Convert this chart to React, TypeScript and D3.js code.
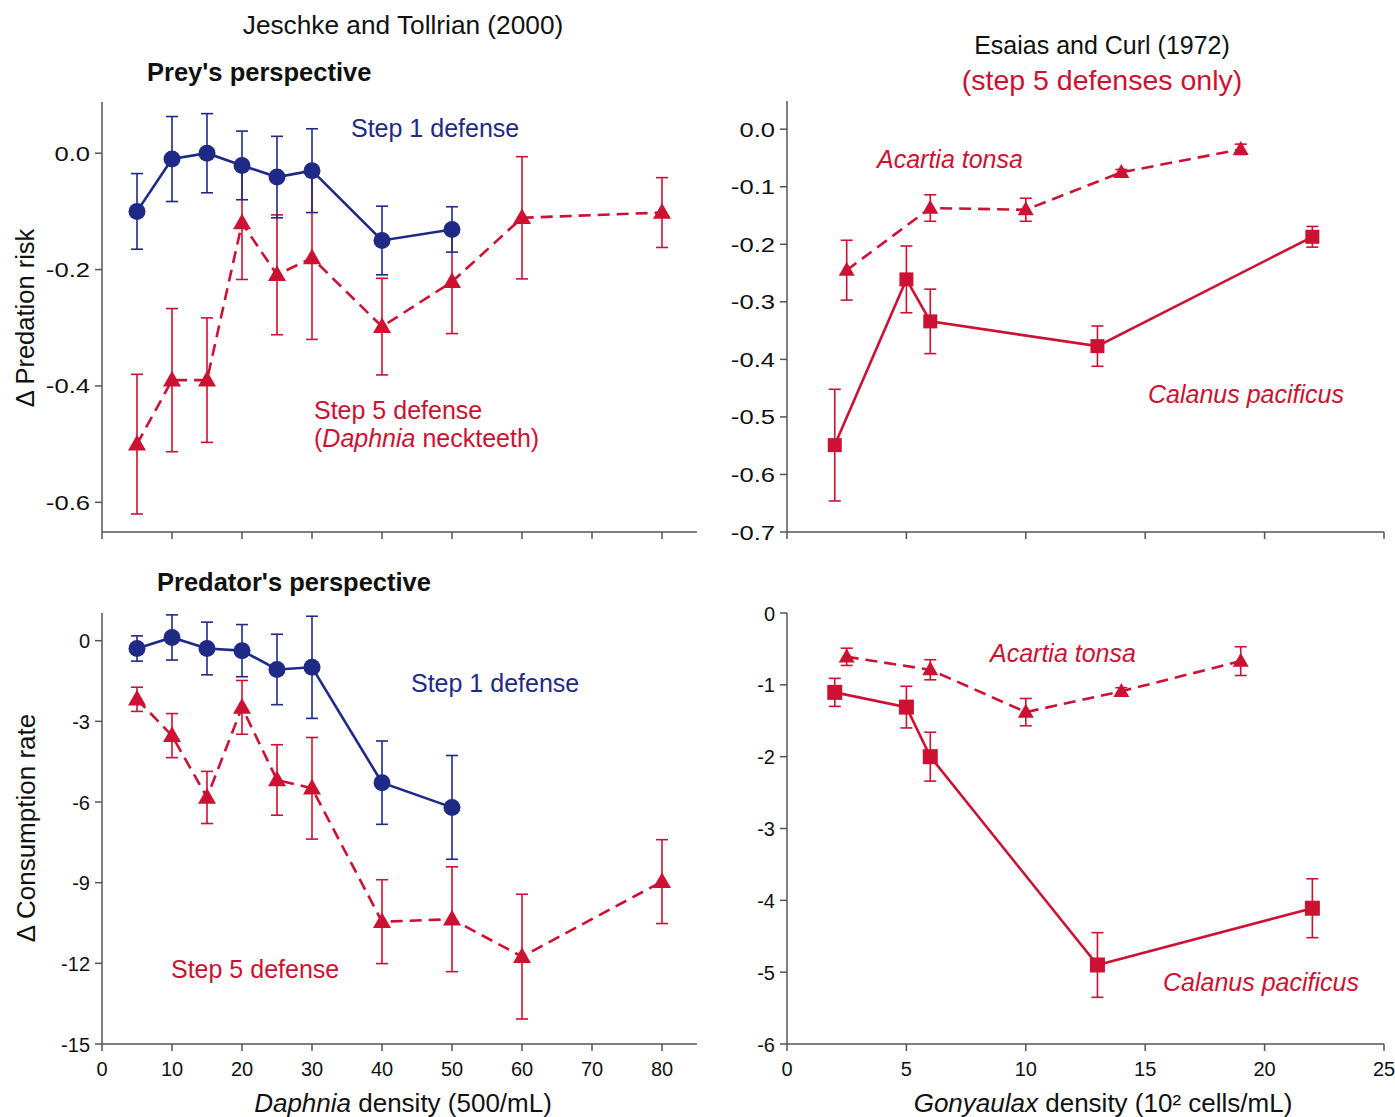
import React from "react";
import * as d3 from "d3";

// ---------- DATA ----------
const daphniaDensity = [5, 10, 15, 20, 25, 30, 40, 50, 60, 80];
const preyStep1 = [-0.1, -0.01, 0.0, -0.021, -0.041, -0.03, -0.15, -0.131];
const preyStep1Err = [0.065, 0.073, 0.068, 0.059, 0.07, 0.072, 0.059, 0.039];
const preyStep5 = [-0.5, -0.39, -0.39, -0.12, -0.209, -0.18, -0.298, -0.221, -0.111, -0.102];
const preyStep5Err = [0.12, 0.123, 0.107, 0.097, 0.103, 0.14, 0.083, 0.089, 0.105, 0.06];
const predStep1 = [-0.29, 0.12, -0.29, -0.37, -1.07, -0.99, -5.28, -6.2];
const predStep1Err = [0.47, 0.84, 0.98, 0.97, 1.31, 1.9, 1.55, 1.93];
const predStep5 = [-2.18, -3.53, -5.83, -2.48, -5.18, -5.49, -10.45, -10.36, -11.75, -8.96];
const predStep5Err = [0.45, 0.82, 0.97, 1.0, 1.31, 1.89, 1.56, 1.95, 2.32, 1.56];

const acartiaX = [2.5, 6, 10, 14, 19];
const acartiaRisk = [-0.245, -0.137, -0.14, -0.075, -0.035];
const acartiaRiskErr = [0.052, 0.023, 0.02, 0.005, 0.009];
const calanusX = [2, 5, 6, 13, 22];
const calanusRisk = [-0.549, -0.261, -0.334, -0.377, -0.187];
const calanusRiskErr = [0.097, 0.058, 0.056, 0.035, 0.018];
const acartiaCons = [-0.61, -0.79, -1.38, -1.09, -0.67];
const acartiaConsErr = [0.12, 0.14, 0.19, 0.05, 0.2];
const calanusCons = [-1.105, -1.31, -2.0, -4.9, -4.11];
const calanusConsErr = [0.195, 0.29, 0.34, 0.45, 0.41];

const daphniaTicks = [0, 10, 20, 30, 40, 50, 60, 70, 80];
const gonyTicks = [0, 5, 10, 15, 20, 25];
const preyTicks = [0, -0.2, -0.4, -0.6];
const riskTicksR = [0, -0.1, -0.2, -0.3, -0.4, -0.5, -0.6, -0.7];
const consTicksL = [0, -3, -6, -9, -12, -15];
const consTicksR = [0, -1, -2, -3, -4, -5, -6];

// ---------- STYLE ----------
const BLUE = "#1f2a86";
const RED = "#cc1133";
const AXIS = "#555";
const FONT = "'Liberation Sans', Arial, Helvetica, sans-serif";

const fmt1 = (v: number) => (Math.abs(v) < 1e-9 ? "0.0" : d3.format(".1f")(v).replace("\u2212", "-"));
const fmt0 = (v: number) => (Math.abs(v) < 1e-9 ? "0" : String(v));

// scales
const xL = d3.scaleLinear().domain([0, 85]).range([102, 697]);
const xR = d3.scaleLinear().domain([0, 25]).range([787, 1384]);
const yTL = d3.scaleLinear().domain([-0.651, 0.088]).range([532, 102]);
const yTR = d3.scaleLinear().domain([-0.7, 0.049]).range([532, 101]);
const yBL = d3.scaleLinear().domain([-15, 1.03]).range([1044, 613]);
const yBR = d3.scaleLinear().domain([-6, 0]).range([1044, 613]);

type Sc = d3.ScaleLinear<number, number>;

function ST({ x, y, size, sx = 1, anchor = "start", fill = "#111", bold = false, italic = false, rotate = 0, children }: any) {
  return (
    <g transform={`translate(${x},${y}) rotate(${rotate}) scale(${sx},1)`}>
      <text x={0} y={0} fontSize={size} fontFamily={FONT} fill={fill} fontWeight={bold ? "bold" : "normal"} fontStyle={italic ? "italic" : "normal"} textAnchor={anchor}>
        {children}
      </text>
    </g>
  );
}

function Axes({ x, y, xTicks, yTicks, yFmt, xLabels, ySize, ySx }: { x: Sc; y: Sc; xTicks: number[]; yTicks: number[]; yFmt: (v: number) => string; xLabels: boolean; ySize: number; ySx: number }) {
  const [x0, x1] = x.range();
  const [y0, y1] = y.range();
  return (
    <g>
      <line x1={x0} x2={x1} y1={y0} y2={y0} stroke={AXIS} strokeWidth={1.5} />
      <line x1={x0} x2={x0} y1={y0} y2={y1} stroke={AXIS} strokeWidth={1.5} />
      {xTicks.map((t) => (
        <g key={"x" + t}>
          <line x1={x(t)} x2={x(t)} y1={y0} y2={y0 + 7} stroke={AXIS} strokeWidth={1.5} />
          {xLabels && (
            <ST x={x(t)} y={y0 + 32} size={20} anchor="middle">
              {fmt0(t)}
            </ST>
          )}
        </g>
      ))}
      {yTicks.map((t) => (
        <g key={"y" + t}>
          <line x1={x0 - 7} x2={x0} y1={y(t)} y2={y(t)} stroke={AXIS} strokeWidth={1.5} />
          <ST x={x0 - 12} y={y(t) + 7.5} size={ySize} sx={ySx} anchor="end">
            {yFmt(t)}
          </ST>
        </g>
      ))}
    </g>
  );
}

type Marker = "circle" | "triangle" | "square";

function Series({ xs, ys, errs, x, y, color, dashed, marker, size, errW }: { xs: number[]; ys: number[]; errs: number[]; x: Sc; y: Sc; color: string; dashed: boolean; marker: Marker; size: number; errW: number }) {
  const pts = ys.map((v, i) => [xs[i], v] as [number, number]);
  const line = d3.line<[number, number]>().x((d) => x(d[0])).y((d) => y(d[1]));
  const cap = 6;
  return (
    <g>
      {pts.map((d, i) => {
        const cx = x(d[0]);
        const top = y(d[1] + errs[i]);
        const bot = y(d[1] - errs[i]);
        return (
          <g key={"e" + i} stroke={color} strokeWidth={errW}>
            <line x1={cx} x2={cx} y1={top} y2={bot} />
            <line x1={cx - cap} x2={cx + cap} y1={top} y2={top} />
            <line x1={cx - cap} x2={cx + cap} y1={bot} y2={bot} />
          </g>
        );
      })}
      <path d={line(pts) || ""} fill="none" stroke={color} strokeWidth={2.6} strokeDasharray={dashed ? "12 7" : undefined} />
      {pts.map((d, i) => {
        const cx = x(d[0]);
        const cy = y(d[1]);
        if (marker === "circle") return <circle key={"m" + i} cx={cx} cy={cy} r={size} fill={color} />;
        if (marker === "square")
          return <rect key={"m" + i} x={cx - size} y={cy - size} width={size * 2} height={size * 2} fill={color} />;
        const h = size * 1.75;
        return (
          <path
            key={"m" + i}
            d={`M${cx},${cy - h * 0.6} L${cx + size},${cy + h * 0.4} L${cx - size},${cy + h * 0.4} Z`}
            fill={color}
          />
        );
      })}
    </g>
  );
}

export default function App() {
  return (
    <svg width={1395} height={1117} style={{ position: "absolute", left: 0, top: 0, background: "#fff" }}>
      <rect width={1395} height={1117} fill="#fff" />
      {/* titles */}
      <ST x={403} y={34} size={25} sx={1.05} anchor="middle">Jeschke and Tollrian (2000)</ST>
      <ST x={147} y={81} size={25.5} bold>Prey's perspective</ST>
      <ST x={1102} y={54} size={25} anchor="middle">Esaias and Curl (1972)</ST>
      <ST x={1102} y={90} size={28.5} anchor="middle" fill={RED}>(step 5 defenses only)</ST>
      <ST x={157} y={591} size={25.5} bold>Predator's perspective</ST>

      {/* Top-left */}
      <Axes x={xL} y={yTL} xTicks={daphniaTicks} yTicks={preyTicks} yFmt={fmt1} xLabels={false} ySize={21} ySx={1.22} />
      <Series xs={daphniaDensity} ys={preyStep5} errs={preyStep5Err} x={xL} y={yTL} color={RED} dashed marker="triangle" size={9} errW={1.6} />
      <Series xs={daphniaDensity} ys={preyStep1} errs={preyStep1Err} x={xL} y={yTL} color={BLUE} dashed={false} marker="circle" size={8.5} errW={1.6} />
      <ST x={351} y={137} size={25} fill={BLUE}>Step 1 defense</ST>
      <ST x={314} y={419} size={25} fill={RED}>Step 5 defense</ST>
      <ST x={314} y={447} size={25} fill={RED}>
        (<tspan fontStyle="italic">Daphnia</tspan> neckteeth)
      </ST>
      <ST x={34} y={318} size={25.5} rotate={-90} anchor="middle">Δ Predation risk</ST>

      {/* Top-right */}
      <Axes x={xR} y={yTR} xTicks={gonyTicks} yTicks={riskTicksR} yFmt={fmt1} xLabels={false} ySize={21} ySx={1.22} />
      <Series xs={calanusX} ys={calanusRisk} errs={calanusRiskErr} x={xR} y={yTR} color={RED} dashed={false} marker="square" size={7} errW={1.6} />
      <Series xs={acartiaX} ys={acartiaRisk} errs={acartiaRiskErr} x={xR} y={yTR} color={RED} dashed marker="triangle" size={8} errW={1.6} />
      <ST x={877} y={168} size={25} fill={RED} italic>Acartia tonsa</ST>
      <ST x={1148} y={403} size={25} fill={RED} italic>Calanus pacificus</ST>

      {/* Bottom-left */}
      <Axes x={xL} y={yBL} xTicks={daphniaTicks} yTicks={consTicksL} yFmt={fmt0} xLabels ySize={20} ySx={1} />
      <Series xs={daphniaDensity} ys={predStep5} errs={predStep5Err} x={xL} y={yBL} color={RED} dashed marker="triangle" size={9} errW={1.6} />
      <Series xs={daphniaDensity} ys={predStep1} errs={predStep1Err} x={xL} y={yBL} color={BLUE} dashed={false} marker="circle" size={8.5} errW={1.6} />
      <ST x={411} y={692} size={25} fill={BLUE}>Step 1 defense</ST>
      <ST x={171} y={978} size={25} fill={RED}>Step 5 defense</ST>
      <ST x={35} y={828} size={26} rotate={-90} anchor="middle">Δ Consumption rate</ST>
      <ST x={403} y={1112} size={26} anchor="middle">
        <tspan fontStyle="italic">Daphnia</tspan> density (500/mL)
      </ST>

      {/* Bottom-right */}
      <Axes x={xR} y={yBR} xTicks={gonyTicks} yTicks={consTicksR} yFmt={fmt0} xLabels ySize={20} ySx={1} />
      <Series xs={calanusX} ys={calanusCons} errs={calanusConsErr} x={xR} y={yBR} color={RED} dashed={false} marker="square" size={7.5} errW={1.6} />
      <Series xs={acartiaX} ys={acartiaCons} errs={acartiaConsErr} x={xR} y={yBR} color={RED} dashed marker="triangle" size={8} errW={1.6} />
      <ST x={990} y={662} size={25} fill={RED} italic>Acartia tonsa</ST>
      <ST x={1163} y={991} size={25} fill={RED} italic>Calanus pacificus</ST>
      <ST x={1103} y={1112} size={26} anchor="middle">
        <tspan fontStyle="italic">Gonyaulax</tspan> density (10² cells/mL)
      </ST>
    </svg>
  );
}
